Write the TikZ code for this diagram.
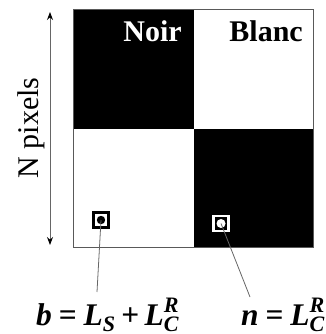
\documentclass[tikz,border=0pt]{standalone}
\usepackage{amsmath}
\usepackage{fontspec}
\setmainfont{Liberation Serif}
\usetikzlibrary{arrows.meta}
\newcommand{\bim}[1]{\text{\bfseries\itshape #1}}
\begin{document}
\begin{tikzpicture}[x=1pt,y=-1pt,
  quad/.style={inner sep=0pt, minimum width=119.5pt, minimum height=118.5pt, draw=none},
  lbl/.style={inner sep=0pt, font=\fontsize{30}{32}\selectfont\bfseries},
  marker/.style={inner sep=0pt, minimum size=15pt, line width=2.4pt},
  conn/.style={draw=gray!80!black, line width=0.8pt},
  formula/.style={inner sep=0pt, anchor=base west, font=\fontsize{31.5}{33}\selectfont}
]
\useasboundingbox (0,0) rectangle (325,334);
% quadrants
\node[quad, fill=black] (q1) at (133.75,69.25) {};
\node[quad, fill=white] (q2) at (253.25,69.25) {};
\node[quad, fill=white] (q3) at (133.75,187.75) {};
\node[quad, fill=black] (q4) at (253.25,187.75) {};
\draw[gray!70!black, line width=0.9pt] (q1.north west) rectangle (q4.south east);
% labels
\node[lbl, text=white, anchor=base east] (noir) at (182,42) {Noir};
\node[lbl, text=black, anchor=base east] (blanc) at (303,42) {Blanc};
% N pixels
\node[inner sep=0pt, rotate=90, font=\fontsize{30}{32}\selectfont] (np) at (31,128) {N pixels};
\coordinate (atop) at (50,12);
\coordinate (abot) at (50,245);
\draw[gray!80!black, line width=1pt, {Stealth[length=8pt,width=6pt,fill=black,color=black]}-{Stealth[length=8pt,width=6pt,fill=black,color=black]}] (atop) -- (abot);
% markers
\node[marker, draw=black, fill=white] (mb) at (101,220) {};
\fill[black] (mb.center) circle (4.2pt);
\node[marker, draw=white, fill=black] (mn) at (221,223.5) {};
\fill[white] (mn.center) circle (4.5pt);
% formulas
\node[formula] (fb) at (36,325) {$\bim{b} \mathrel{\text{\bfseries=}} \bim{L}_{\bim{S}} \mathbin{\text{\bfseries+}} \bim{L}_{\bim{C}}^{\bim{R}}$};
\node[formula] (fn) at (241,325) {$\bim{n} \mathrel{\text{\bfseries=}} \bim{L}_{\bim{C}}^{\bim{R}}$};
% connectors
\coordinate (eb) at (97,292);
\coordinate (en) at (250,297);
\draw[conn] (mb.center) -- (eb);
\draw[conn] (mn.center) -- (en);
\end{tikzpicture}
\end{document}
